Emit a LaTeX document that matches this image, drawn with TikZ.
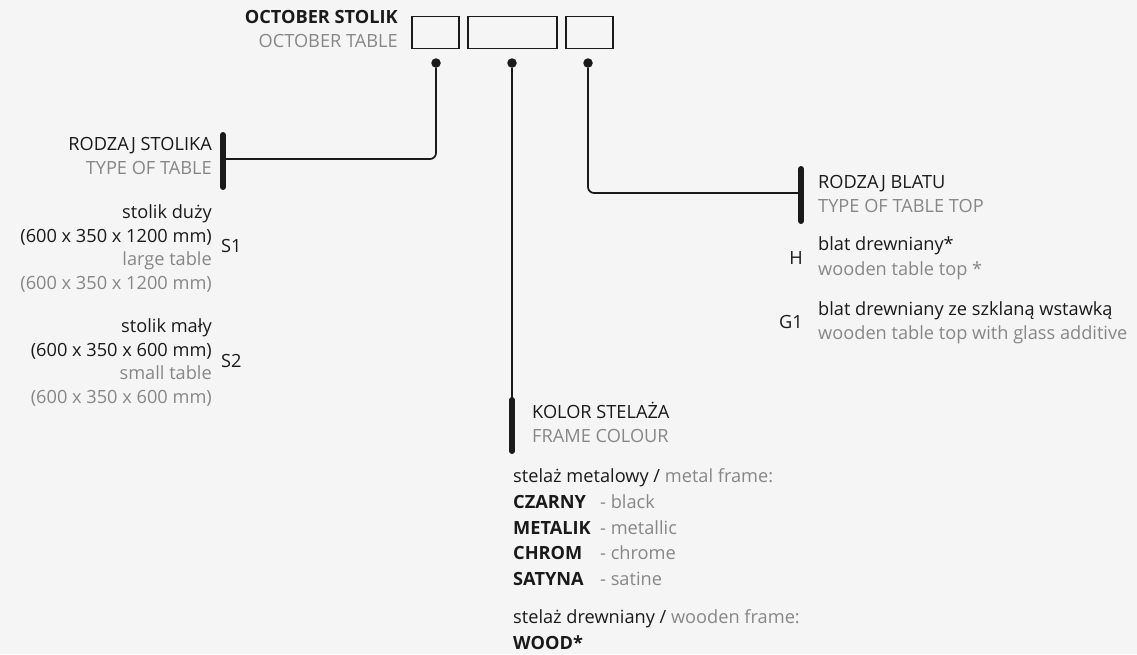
\documentclass[tikz,border=0pt]{standalone}
\usepackage{fontspec}
\setmainfont{Open Sans}
\definecolor{bg}{HTML}{F4F5F4}
\definecolor{dk}{HTML}{1A1A1A}
\definecolor{lt}{HTML}{878787}
\newcommand{\fs}{\fontsize{18.2}{23.6}\selectfont}
\newcommand{\gr}[1]{\textcolor{lt}{#1}}
\begin{document}
\begin{tikzpicture}[x=1pt,y=-1pt,
  txt/.style={inner sep=0pt, font=\fs, text=dk},
  gtxt/.style={txt, text=lt},
  box/.style={draw=dk, line width=1.3pt, minimum height=32pt, inner sep=0pt},
  dot/.style={circle, fill=dk, minimum size=9.5pt, inner sep=0pt},
  conn/.style={draw=dk, line width=1.7pt, rounded corners=6pt},
  bar/.style={draw=dk, line width=6pt, line cap=round}]
\fill[bg] (0,0) rectangle (1137,654);
\useasboundingbox (0,0) rectangle (1137,654);
% header
\node[txt, anchor=mid east, font=\fs\bfseries] (h1) at (398,21) {OCTOBER STOLIK};
\node[gtxt, anchor=mid east] (h2) at (398,45) {OCTOBER TABLE};
\node[box, minimum width=47pt] (b1) at (435.5,32.5) {};
\node[box, minimum width=89pt] (b2) at (512.5,32.5) {};
\node[box, minimum width=47pt] (b3) at (589.5,32.5) {};
\node[dot] (d1) at (436,63) {};
\node[dot] (d2) at (512,63) {};
\node[dot] (d3) at (588,63) {};
% bars
\coordinate (l1t) at (223,135); \coordinate (l1b) at (223,187); \coordinate (l1m) at (223,159);
\coordinate (l3t) at (801,169); \coordinate (l3b) at (801,221); \coordinate (l3m) at (801,193);
\coordinate (l2t) at (512,400); \coordinate (l2b) at (512,451);
\draw[conn] (d1) |- (l1m);
\draw[conn] (d3) |- (l3m);
\draw[conn] (d2) -- (l2t);
\draw[bar] (l1t) -- (l1b);
\draw[bar] (l3t) -- (l3b);
\draw[bar] (l2t) -- (l2b);
% type of table
\node[txt, anchor=mid east] (t1a) at (212,148) {RODZAJ STOLIKA};
\node[gtxt, anchor=mid east] (t1b) at (212,172) {TYPE OF TABLE};
\node[txt, anchor=east, align=right] (s1t) at (212,248.5) {stolik duży\\(600 x 350 x 1200 mm)\\\gr{large table}\\\gr{(600 x 350 x 1200 mm)}};
\node[txt, anchor=mid west] (s1) at (221,250) {S1};
\node[txt, anchor=east, align=right] (s2t) at (212,362.5) {stolik mały\\(600 x 350 x 600 mm)\\\gr{small table}\\\gr{(600 x 350 x 600 mm)}};
\node[txt, anchor=mid west] (s2) at (221,365) {S2};
% type of table top
\node[txt, anchor=mid west] (t3a) at (818,186) {RODZAJ BLATU};
\node[gtxt, anchor=mid west] (t3b) at (818,210) {TYPE OF TABLE TOP};
\node[txt, anchor=mid east] (hh) at (803,262) {H};
\node[txt, anchor=mid west] (h1a) at (818,248) {blat drewniany*};
\node[gtxt, anchor=mid west] (h1b) at (818,273) {wooden table top *};
\node[txt, anchor=mid east] (g1) at (803,326) {G1};
\node[txt, anchor=mid west] (g1a) at (818,313) {blat drewniany ze szklaną wstawką};
\node[gtxt, anchor=mid west] (g1b) at (818,337) {wooden table top with glass additive};
% frame colour
\node[txt, anchor=mid west] (t2a) at (532,416) {KOLOR STELAŻA};
\node[gtxt, anchor=mid west] (t2b) at (532,440) {FRAME COLOUR};
\node[txt, anchor=mid west] (m0) at (513,480) {stelaż metalowy / \gr{metal frame:}};
\node[txt, anchor=mid west, font=\fs\bfseries] (m1) at (513,506) {CZARNY};
\node[gtxt, anchor=mid west] (m1b) at (600,506) {- black};
\node[txt, anchor=mid west, font=\fs\bfseries] (m2) at (513,532) {METALIK};
\node[gtxt, anchor=mid west] (m2b) at (600,532) {- metallic};
\node[txt, anchor=mid west, font=\fs\bfseries] (m3) at (513,557) {CHROM};
\node[gtxt, anchor=mid west] (m3b) at (600,557) {- chrome};
\node[txt, anchor=mid west, font=\fs\bfseries] (m4) at (513,583) {SATYNA};
\node[gtxt, anchor=mid west] (m4b) at (600,583) {- satine};
\node[txt, anchor=mid west] (w0) at (513,621) {stelaż drewniany / \gr{wooden frame:}};
\node[txt, anchor=mid west, font=\fs\bfseries] (w1) at (513,647) {WOOD*};
\end{tikzpicture}
\end{document}
